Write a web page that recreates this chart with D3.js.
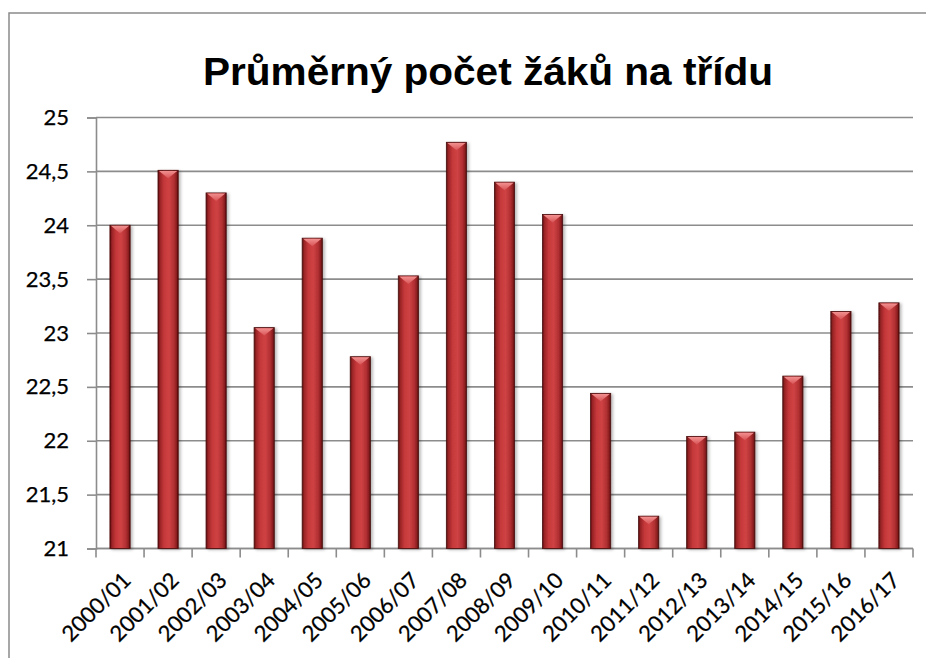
<!DOCTYPE html>
<html>
<head>
<meta charset="utf-8">
<script src="https://cdn.jsdelivr.net/npm/d3@7"></script>
<style>
  html, body { margin: 0; padding: 0; background: #fff; }
  svg { display: block; }
</style>
</head>
<body>
<svg id="chart" width="926" height="658"></svg>
<script>
const title = "Průměrný počet žáků na třídu";
const categories = ["2000/01","2001/02","2002/03","2003/04","2004/05","2005/06","2006/07","2007/08","2008/09","2009/10","2010/11","2011/12","2012/13","2013/14","2014/15","2015/16","2016/17"];
const values = [24.0, 24.51, 24.3, 23.05, 23.88, 22.78, 23.53, 24.77, 24.4, 24.1, 22.44, 21.3, 22.04, 22.08, 22.6, 23.2, 23.28];
const yTicks = [21, 21.5, 22, 22.5, 23, 23.5, 24, 24.5, 25];
const yTickLabels = ["21","21,5","22","22,5","23","23,5","24","24,5","25"];

const svg = d3.select("#chart");
const plot = { left: 96, right: 913, top: 117.5, bottom: 548.5 };
const labelFont = "Lato, 'Open Sans', sans-serif";

// frame
svg.append("rect").attr("x", 9).attr("y", 13).attr("width", 940).attr("height", 700)
  .attr("fill", "none").attr("stroke", "#8a8a8a").attr("stroke-width", 1.5);

// defs
const defs = svg.append("defs");
const g1 = defs.append("linearGradient").attr("id", "barGrad").attr("x1", "0").attr("x2", "1").attr("y1", "0").attr("y2", "0");
[["0%", "#5a0e0e"], ["10%", "#9a2426"], ["30%", "#c5383a"], ["55%", "#cf4244"], ["80%", "#b02f31"], ["93%", "#861c1e"], ["100%", "#4a0a0a"]]
  .forEach(([o, c]) => g1.append("stop").attr("offset", o).attr("stop-color", c));
const g2 = defs.append("linearGradient").attr("id", "capGrad").attr("x1", "0").attr("x2", "0").attr("y1", "0").attr("y2", "1");
[["0%", "#f29090"], ["100%", "#d85456"]].forEach(([o, c]) => g2.append("stop").attr("offset", o).attr("stop-color", c));
const f = defs.append("filter").attr("id", "shadow").attr("x", "-30%").attr("y", "-10%").attr("width", "160%").attr("height", "120%");
f.append("feDropShadow").attr("dx", 2).attr("dy", 1).attr("stdDeviation", 1.8).attr("flood-color", "#000").attr("flood-opacity", 0.28);

const x = d3.scaleBand().domain(categories).range([plot.left, plot.right]).padding(0);
const y = d3.scaleLinear().domain([21, 25]).range([plot.bottom, plot.top]);
const barW = x.bandwidth() * 0.42;

// gridlines
svg.append("g").selectAll("line").data(yTicks).join("line")
  .attr("x1", plot.left).attr("x2", plot.right)
  .attr("y1", d => y(d)).attr("y2", d => y(d))
  .attr("stroke", "#8c8c8c").attr("stroke-width", 1.6);

// y axis
const yAxis = d3.axisLeft(y).tickValues(yTicks).tickSize(9).tickPadding(18)
  .tickFormat((d, i) => yTickLabels[i]);
const ya = svg.append("g").attr("transform", `translate(${plot.left},0)`).call(yAxis);
ya.select(".domain").attr("stroke", "#8c8c8c").attr("stroke-width", 1.6);
ya.selectAll(".tick line").attr("stroke", "#8c8c8c").attr("stroke-width", 1.6);
ya.selectAll(".tick text").attr("font-family", labelFont).attr("font-size", 22).attr("fill", "#000")
  .attr("stroke", "#000").attr("stroke-width", 0.25);

// x axis ticks at band boundaries
const xa = svg.append("g").attr("transform", `translate(0,${plot.bottom})`);
const bounds = categories.map(c => x(c)).concat([plot.right]);
xa.append("line").attr("x1", plot.left).attr("x2", plot.right).attr("y1", 0).attr("y2", 0)
  .attr("stroke", "#8c8c8c").attr("stroke-width", 1.6);
xa.selectAll("line.tk").data(bounds).join("line").attr("class", "tk")
  .attr("x1", d => d).attr("x2", d => d).attr("y1", 0).attr("y2", 9)
  .attr("stroke", "#8c8c8c").attr("stroke-width", 1.6);
xa.selectAll("text").data(categories).join("text")
  .attr("transform", d => `translate(${x(d) + x.bandwidth() / 2 + 1},${22}) rotate(-45)`)
  .attr("text-anchor", "end").attr("dy", "0.72em")
  .attr("font-family", labelFont).attr("font-size", 22).attr("fill", "#000")
  .attr("stroke", "#000").attr("stroke-width", 0.25)
  .text(d => d);

// bars
const bars = svg.append("g").selectAll("g").data(categories).join("g").attr("filter", "url(#shadow)");
bars.append("rect")
  .attr("x", d => x(d) + (x.bandwidth() - barW) / 2)
  .attr("y", (d, i) => y(values[i]))
  .attr("width", barW)
  .attr("height", (d, i) => y(21) - y(values[i]))
  .attr("fill", "url(#barGrad)")
  .attr("stroke", "#4a0b0b").attr("stroke-width", 0.8);
const capH = 8;
bars.append("path")
  .attr("d", (d, i) => {
    const x0 = x(d) + (x.bandwidth() - barW) / 2, x1 = x0 + barW, yt = y(values[i]);
    return `M${x0 + 1},${yt + 0.6} L${x1 - 1},${yt + 0.6} L${(x0 + x1) / 2},${yt + capH} Z`;
  })
  .attr("fill", "url(#capGrad)");

// title
svg.append("text").attr("x", 488).attr("y", 85).attr("text-anchor", "middle")
  .attr("font-family", "'Liberation Sans', Arial, sans-serif").attr("font-weight", "bold")
  .attr("font-size", 38).attr("textLength", 570).attr("lengthAdjust", "spacingAndGlyphs")
  .attr("fill", "#000").text(title);
</script>
</body>
</html>
